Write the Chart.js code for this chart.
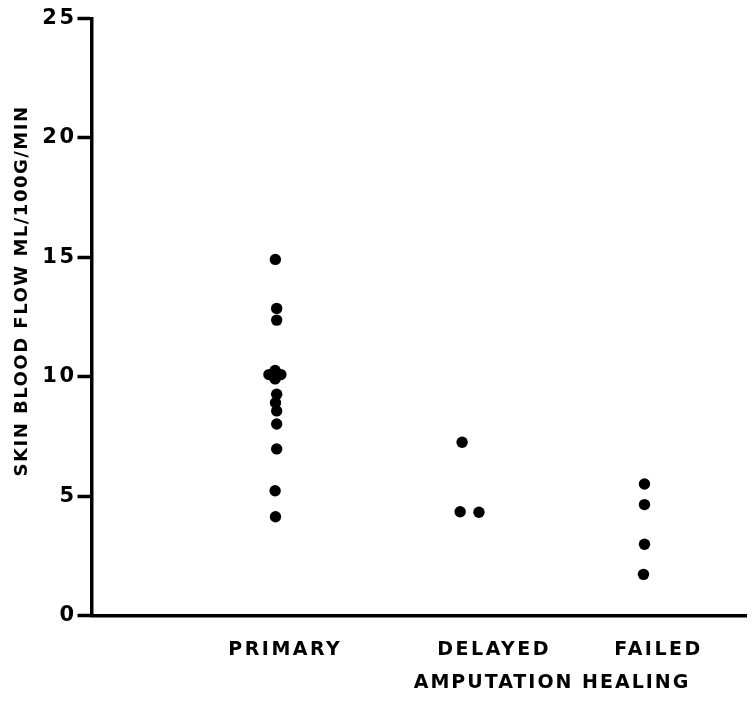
<!DOCTYPE html>
<html>
<head>
<meta charset="utf-8">
<script src="https://cdn.jsdelivr.net/npm/chart.js@4.4.1/dist/chart.umd.min.js"></script>
<style>
  html, body { margin: 0; padding: 0; background: #fff; }
  canvas { display: block; }
</style>
</head>
<body>
<canvas id="myChart" width="752" height="725"></canvas>
<script>
// group names and where their labels sit on the 0-100 x scale
const groups = ['PRIMARY', 'DELAYED', 'FAILED']
const groupLabelX = [29.6, 61.5, 86.6]

// skin blood flow (ml/100g/min), with small horizontal offsets
const primaryFlow = [14.91, 12.86, 12.37, 10.09, 10.09, 10.26, 9.91, 9.27, 8.91, 8.57, 8.02, 6.98, 5.23, 4.14]
const primaryX    = [28.08, 28.28, 28.28, 27.1, 28.92, 28.04, 28.04, 28.28, 28.1, 28.28, 28.28, 28.28, 28.04, 28.1]
const delayedFlow = [7.26, 4.35, 4.33]
const delayedX    = [56.6, 56.3, 59.17]
const failedFlow  = [5.51, 4.65, 2.99, 1.73]
const failedX     = [84.45, 84.45, 84.45, 84.3]

const yTicks = [0, 5, 10, 15, 20, 25]
const yTitle = 'SKIN BLOOD FLOW ML/100G/MIN'
const xTitle = 'AMPUTATION HEALING'

const toPoints = (xs, ys) => ys.map((y, i) => ({ x: xs[i], y: y }))

const font = '"DejaVu Sans", sans-serif'

const spacing = {
  id: 'spacing',
  beforeDraw(chart) {
    chart.ctx.letterSpacing = '2.5px'
  },
  afterDraw(chart) {
    const c = chart.ctx
    c.save()
    c.fillStyle = '#000'
    c.textBaseline = 'middle'
    c.textAlign = 'center'
    c.letterSpacing = '2px'
    c.font = 'bold 19px ' + font
    c.fillText(xTitle, 552, 683)
    c.translate(22, 291)
    c.rotate(-Math.PI / 2)
    c.letterSpacing = '1.5px'
    c.font = 'bold 18px ' + font
    c.fillText(yTitle, 0, 0)
    c.restore()
  }
}

let ctx = document.getElementById('myChart')

let myChart = new Chart(ctx, {
  type: 'scatter',
  data: {
    datasets: [{
      label: groups[0],
      data: toPoints(primaryX, primaryFlow)
    }, {
      label: groups[1],
      data: toPoints(delayedX, delayedFlow)
    }, {
      label: groups[2],
      data: toPoints(failedX, failedFlow)
    }]
  },
  options: {
    responsive: false,
    animation: false,
    layout: { padding: { top: 18.3, right: 0, bottom: 0, left: 0 } },
    elements: {
      point: { radius: 5.7, backgroundColor: '#000', borderWidth: 0, hoverRadius: 5.7 }
    },
    plugins: {
      legend: { display: false },
      tooltip: { enabled: false }
    },
    scales: {
      x: {
        type: 'linear',
        min: 0,
        max: 100,
        afterFit: s => { s.height = 109.3 },
        afterBuildTicks: s => { s.ticks = groupLabelX.map(v => ({ value: v })) },
        grid: { display: false },
        border: { display: true, color: '#000', width: 3.5 },
        ticks: {
          autoSkip: false,
          maxRotation: 0,
          padding: 15,
          color: '#000',
          font: { family: font, size: 19, weight: 'bold' },
          callback: (v, i) => groups[i]
        }
      },
      y: {
        min: 0,
        max: 25,
        afterFit: s => { s.width = 91.5 },
        afterBuildTicks: s => { s.ticks = yTicks.map(v => ({ value: v })) },
        grid: {
          drawOnChartArea: false,
          drawTicks: true,
          tickLength: 14,
          tickWidth: 3.5,
          tickColor: '#000'
        },
        border: { display: true, color: '#000', width: 3.5 },
        ticks: {
          padding: 1,
          color: '#000',
          font: { family: font, size: 21, weight: 'bold' }
        }
      }
    }
  },
  plugins: [spacing]
})
</script>
</body>
</html>
